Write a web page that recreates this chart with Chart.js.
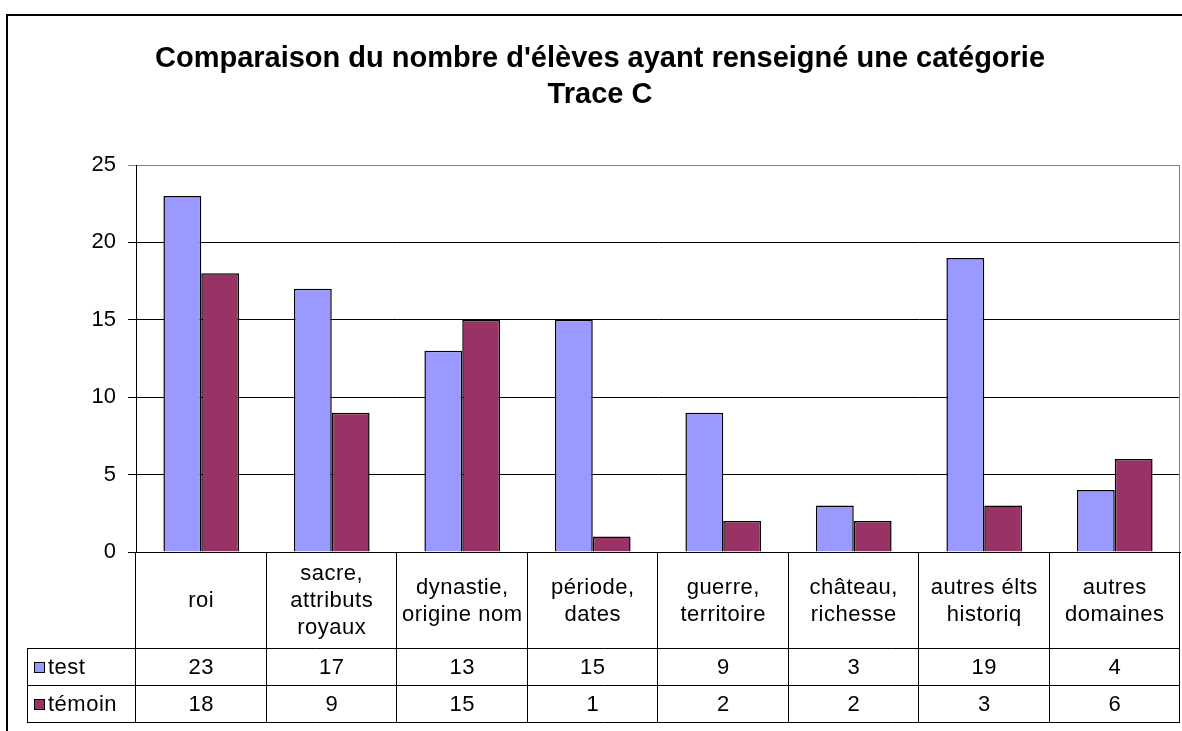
<!DOCTYPE html>
<html>
<head>
<meta charset="utf-8">
<script src="https://cdn.jsdelivr.net/npm/chart.js@4"></script>
<style>
html,body{margin:0;padding:0;background:#fff;}
canvas{display:block;}
</style>
</head>
<body>
<canvas id="c" width="1182" height="731"></canvas>
<script>
const categories = [
  ["roi"],
  ["sacre,", "attributs", "royaux"],
  ["dynastie,", "origine nom"],
  ["période,", "dates"],
  ["guerre,", "territoire"],
  ["château,", "richesse"],
  ["autres élts", "historiq"],
  ["autres", "domaines"]
];
const seriesNames = ["test", "témoin"];
const testValues = [23, 17, 13, 15, 9, 3, 19, 4];
const temoinValues = [18, 9, 15, 1, 2, 2, 3, 6];
const titleLines = ["Comparaison du nombre d'élèves ayant renseigné une catégorie", "Trace C"];
const yTicks = [0, 5, 10, 15, 20, 25];

const colors = ["#9999FF", "#993366"];
const FONT = "'Liberation Sans', Arial, sans-serif";

const framePlugin = {
  id: 'frame',
  afterLayout(chart) {
    if (chart.titleBlock) {
      chart.titleBlock.left = 20;
      chart.titleBlock.right = 1180;
    }
  },
  beforeDraw(chart) {
    const ctx = chart.ctx;
    ctx.save();
    ctx.fillStyle = '#fff';
    ctx.fillRect(0, 0, chart.width, chart.height);
    ctx.strokeStyle = '#000';
    ctx.lineWidth = 2;
    ctx.strokeRect(7, 15, 1300, 900);
    ctx.restore();
  },
  afterDraw(chart) {
    const ctx = chart.ctx;
    const ca = chart.chartArea;
    const xs = chart.scales.x;
    ctx.save();
    ctx.strokeStyle = '#808080';
    ctx.lineWidth = 1;
    ctx.beginPath();
    ctx.moveTo(Math.round(ca.right) - 0.5, Math.round(ca.top) + 0.5);
    ctx.lineTo(Math.round(ca.right) - 0.5, Math.round(ca.bottom));
    ctx.stroke();

    const rowH = 37;
    const bottom = Math.round(xs.bottom);
    const r2 = bottom - rowH;
    const r1 = bottom - 2 * rowH;
    const top = Math.round(ca.bottom);
    const legendLeft = 27;
    const n = categories.length;
    const cw = (ca.right - ca.left) / n;
    ctx.strokeStyle = '#000';
    ctx.lineWidth = 1;
    ctx.beginPath();
    for (let i = 0; i <= n; i++) {
      const x = Math.round(ca.left + i * cw) - 0.5;
      ctx.moveTo(x, top);
      ctx.lineTo(x, bottom + 0.5);
    }
    ctx.moveTo(legendLeft + 0.5, r1);
    ctx.lineTo(legendLeft + 0.5, bottom + 0.5);
    [r1, r2, bottom].forEach(y => {
      ctx.moveTo(legendLeft, y + 0.5);
      ctx.lineTo(Math.round(ca.right), y + 0.5);
    });
    ctx.stroke();

    ctx.fillStyle = '#000';
    ctx.font = '22px ' + FONT;
    if ('letterSpacing' in ctx) ctx.letterSpacing = '0.5px';
    ctx.textAlign = 'center';
    ctx.textBaseline = 'middle';
    const hc = (top + r1) / 2 + 1;
    const lh = 27;
    categories.forEach((lines, i) => {
      const cx = xs.getPixelForValue(i);
      const y0 = hc - (lines.length - 1) * lh / 2;
      lines.forEach((t, j) => ctx.fillText(t, cx, y0 + j * lh));
    });
    const rows = [testValues, temoinValues];
    rows.forEach((vals, r) => {
      const cy = (r === 0 ? (r1 + r2) / 2 : (r2 + bottom) / 2) + 1;
      vals.forEach((v, i) => ctx.fillText(String(v), xs.getPixelForValue(i), cy));
      const sq = 11;
      ctx.fillStyle = colors[r];
      ctx.fillRect(34, Math.round(cy - sq / 2), sq, sq);
      ctx.strokeStyle = '#000';
      ctx.strokeRect(34.5, Math.round(cy - sq / 2) + 0.5, sq - 1, sq - 1);
      ctx.fillStyle = '#000';
      ctx.textAlign = 'left';
      ctx.fillText(seriesNames[r], 48, cy);
      ctx.textAlign = 'center';
    });
    ctx.restore();
  }
};

new Chart(document.getElementById('c'), {
  type: 'bar',
  data: {
    labels: categories,
    datasets: [
      { label: seriesNames[0], data: testValues, backgroundColor: colors[0], borderColor: '#000', borderWidth: 1.5 },
      { label: seriesNames[1], data: temoinValues, backgroundColor: colors[1], borderColor: '#000', borderWidth: 1.5 }
    ]
  },
  options: {
    responsive: false,
    devicePixelRatio: 1,
    animation: false,
    categoryPercentage: 0.58,
    barPercentage: 1,
    layout: { padding: { top: 15, right: 2, bottom: 9, left: 0 } },
    plugins: {
      legend: { display: false },
      tooltip: { enabled: false },
      title: {
        display: true,
        text: titleLines,
        color: '#000',
        font: { family: FONT, size: 29, weight: 'bold', lineHeight: 36 / 29 },
        padding: { top: 26, bottom: 52 }
      }
    },
    scales: {
      x: {
        ticks: { display: false },
        grid: { display: false },
        border: { display: true, color: '#000', width: 1 },
        afterFit(s) { s.height = 170; }
      },
      y: {
        min: 0,
        max: 25,
        afterBuildTicks(s) { s.ticks = yTicks.map(v => ({ value: v })); },
        ticks: { color: '#000', font: { family: FONT, size: 22 }, padding: 12 },
        grid: {
          color: c => (c.tick && c.tick.value === 25) ? '#808080' : '#000',
          tickLength: 8,
          drawTicks: true
        },
        border: { display: true, color: '#000', width: 1 },
        afterFit(s) { s.width = 136; }
      }
    }
  },
  plugins: [framePlugin]
});
</script>
</body>
</html>
